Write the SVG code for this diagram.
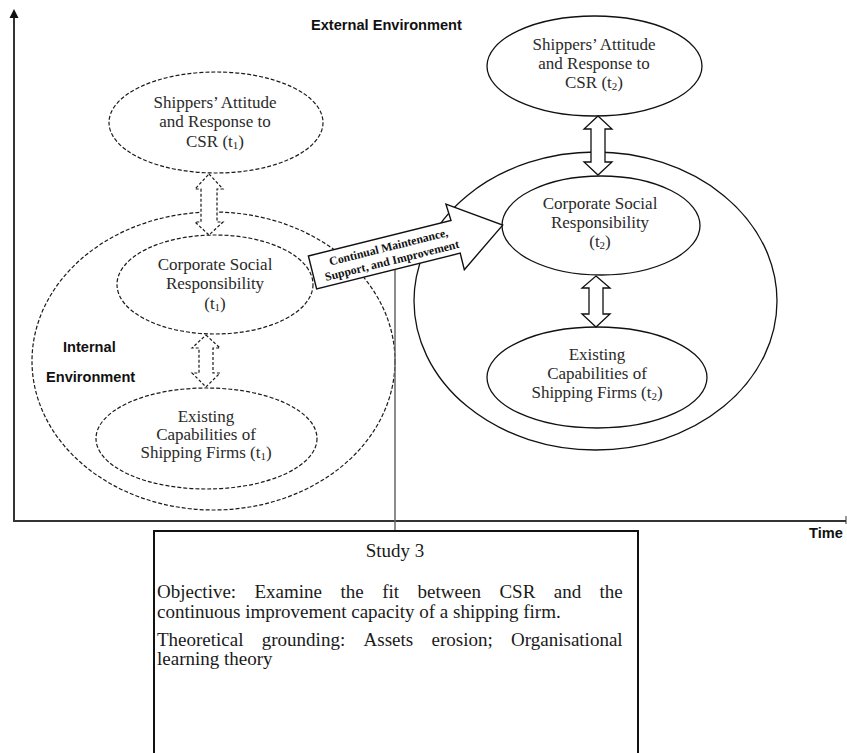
<svg xmlns="http://www.w3.org/2000/svg" width="847" height="753" viewBox="0 0 847 753">
  <defs>
    <style>
      .bg { fill: #ffffff; }
      .axis { stroke: #333333; stroke-width: 2; fill: none; }
      .dash { fill: none; stroke: #1a1a1a; stroke-width: 1.2; stroke-dasharray: 4 2; }
      .solid { fill: none; stroke: #111111; stroke-width: 1.3; }
      .dbl-dash { fill: #ffffff; stroke: #1a1a1a; stroke-width: 1.2; stroke-dasharray: 3 2; }
      .dbl-solid { fill: #ffffff; stroke: #111111; stroke-width: 1.3; }
      .node { font-family: "Liberation Serif", "Times New Roman", serif; font-size: 17px; fill: #2a2a2a; text-anchor: middle; }
      .sub { font-size: 11px; }
      .env { font-family: "Liberation Sans", Arial, sans-serif; font-weight: bold; font-size: 14.6px; fill: #111111; }
      .arrowtxt { font-family: "Liberation Serif", "Times New Roman", serif; font-weight: bold; font-size: 11.8px; fill: #111111; text-anchor: middle; }
      .box { fill: #ffffff; stroke: #111111; stroke-width: 2; }
      .boxtxt { font-family: "Liberation Serif", "Times New Roman", serif; font-size: 19px; fill: #1a1a1a; }
    </style>
  </defs>

  <rect class="bg" x="0" y="0" width="847" height="753"/>

  <!-- time axes -->
  <g id="axes">
    <line class="axis" x1="14" y1="17" x2="14" y2="522"/>
    <polygon points="14,9 18.5,18 9.5,18" fill="#111111"/>
    <line class="axis" x1="13" y1="521" x2="846" y2="521" stroke-width="1.6"/>
    <line x1="846" y1="516" x2="846" y2="524" stroke="#333333" stroke-width="1"/>
    <text class="env" x="809" y="538" font-size="13">Time</text>
  </g>

  <text class="env" x="311" y="30">External Environment</text>

  <!-- environment at t1 (dashed) -->
  <g id="internal-env-t1">
    <ellipse class="dash" cx="213.5" cy="361" rx="181.5" ry="149"/>
    <text class="env" x="63" y="352">Internal</text>
    <text class="env" x="46" y="382">Environment</text>
  </g>

  <!-- environment at t2 (solid) -->
  <g id="internal-env-t2">
    <ellipse class="solid" cx="595.5" cy="301" rx="181.5" ry="149"/>
  </g>

  <g id="shippers-t1">
    <ellipse class="dash" cx="216" cy="122.5" rx="107" ry="50.5"/>
    <text class="node" x="215" y="108">Shippers’ Attitude</text>
    <text class="node" x="215" y="127">and Response to</text>
    <text class="node" x="215" y="147">CSR (t<tspan class="sub" dy="2">1</tspan><tspan dy="-2">)</tspan></text>
  </g>

  <g id="csr-t1">
    <ellipse class="dash" cx="215" cy="284.5" rx="98" ry="49.5"/>
    <text class="node" x="215" y="270">Corporate Social</text>
    <text class="node" x="215" y="289">Responsibility</text>
    <text class="node" x="215" y="309">(t<tspan class="sub" dy="2">1</tspan><tspan dy="-2">)</tspan></text>
  </g>

  <g id="capabilities-t1">
    <ellipse class="dash" cx="206.5" cy="438.5" rx="110.5" ry="50.5"/>
    <text class="node" x="206" y="422">Existing</text>
    <text class="node" x="206" y="440">Capabilities of</text>
    <text class="node" x="206" y="458">Shipping Firms (t<tspan class="sub" dy="2">1</tspan><tspan dy="-2">)</tspan></text>
  </g>

  <g id="shippers-t2">
    <ellipse class="solid" cx="594.5" cy="66" rx="107.5" ry="50"/>
    <text class="node" x="594" y="50">Shippers’ Attitude</text>
    <text class="node" x="594" y="69">and Response to</text>
    <text class="node" x="594" y="88">CSR (t<tspan class="sub" dy="2">2</tspan><tspan dy="-2">)</tspan></text>
  </g>

  <g id="csr-t2">
    <ellipse class="solid" cx="601" cy="225.5" rx="99" ry="49.5"/>
    <text class="node" x="600" y="209">Corporate Social</text>
    <text class="node" x="600" y="228">Responsibility</text>
    <text class="node" x="600" y="247">(t<tspan class="sub" dy="2">2</tspan><tspan dy="-2">)</tspan></text>
  </g>

  <g id="capabilities-t2">
    <ellipse class="solid" cx="597" cy="377.5" rx="110" ry="50.5"/>
    <text class="node" x="597" y="360">Existing</text>
    <text class="node" x="597" y="379">Capabilities of</text>
    <text class="node" x="597" y="398">Shipping Firms (t<tspan class="sub" dy="2">2</tspan><tspan dy="-2">)</tspan></text>
  </g>

  <!-- connectors -->
  <g id="connectors">
    <line x1="395" y1="262" x2="395" y2="531" stroke="#666666" stroke-width="1.5"/>
    <polygon class="dbl-dash" points="209,174 223,189 217,189 217,222 223,222 209,235 195,222 201,222 201,189 195,189"/>
    <polygon class="dbl-dash" points="206,335 220,348 213,348 213,373 220,373 206,387 192,373 199,373 199,348 192,348"/>
    <polygon class="dbl-solid" points="598,116 612,129 605,129 605,162 612,162 598,175 584,162 591,162 591,129 584,129"/>
    <polygon class="dbl-solid" points="596,276 610,288 603,288 603,314 610,314 596,327 582,314 589,314 589,288 582,288"/>
    <g id="transition-arrow" transform="translate(312.5,272.5) rotate(-14)">
      <polygon points="0,-17 147,-17 146,-34 196,0 148,34 148,17 0,17" fill="#ffffff" stroke="#111111" stroke-width="1.4"/>
      <text class="arrowtxt" x="80" y="-2.5">Continual Maintenance,</text>
      <text class="arrowtxt" x="80" y="11.5">Support, and Improvement</text>
    </g>
  </g>

  <!-- study description box -->
  <g id="study-3">
    <rect class="box" x="154" y="531" width="484" height="240"/>
    <text class="boxtxt" x="395" y="557" text-anchor="middle">Study 3</text>
    <text class="boxtxt" y="598"><tspan x="157">Objective:</tspan><tspan x="254.5">Examine</tspan><tspan x="340.5">the</tspan><tspan x="382.2">fit</tspan><tspan x="417.6">between</tspan><tspan x="499.4">CSR</tspan><tspan x="553.8">and</tspan><tspan x="599.6">the</tspan></text>
    <text class="boxtxt" x="157" y="618">continuous improvement capacity of a shipping firm.</text>
    <text class="boxtxt" y="646"><tspan x="157">Theoretical</tspan><tspan x="261.8">grounding:</tspan><tspan x="363.6">Assets</tspan><tspan x="431.6">erosion;</tspan><tspan x="511.1">Organisational</tspan></text>
    <text class="boxtxt" x="157" y="665">learning theory</text>
  </g>
</svg>
